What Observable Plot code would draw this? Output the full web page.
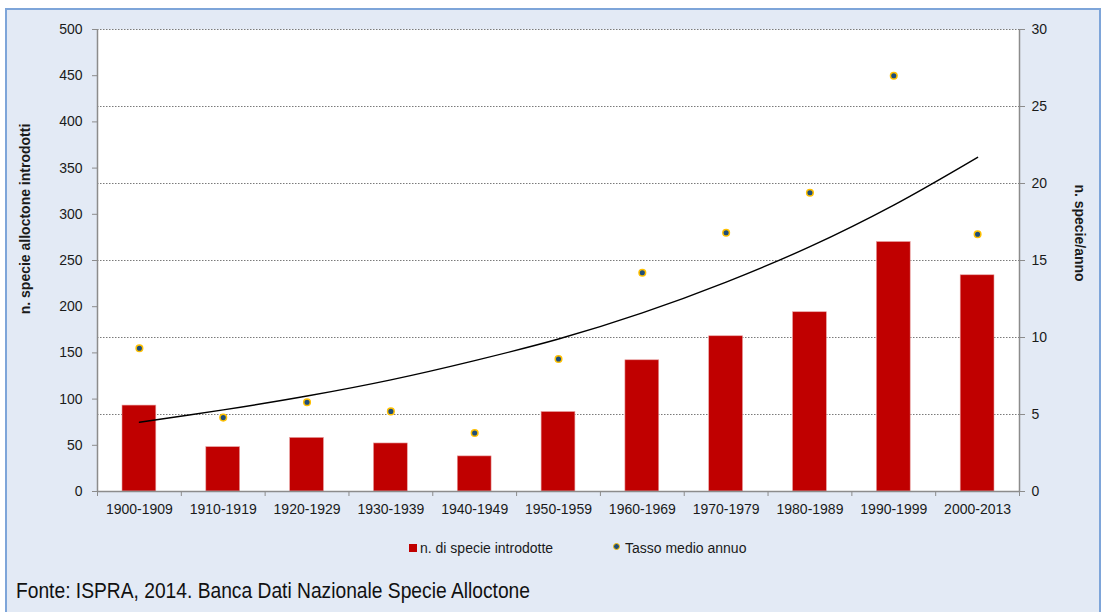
<!DOCTYPE html>
<html>
<head>
<meta charset="utf-8">
<script src="https://cdn.jsdelivr.net/npm/d3@7"></script>
<script src="https://cdn.jsdelivr.net/npm/@observablehq/plot@0.6"></script>
<style>
html,body{margin:0;padding:0;background:#ffffff;}
#wrap{position:relative;width:1104px;height:612px;overflow:hidden;font-family:"Liberation Sans",Arial,sans-serif;color:#1a1a1a;}
#panel{position:absolute;left:5px;top:8px;width:1092px;height:640px;background:#E3EAF5;border:2px solid #7EA5D9;}
#chart{position:absolute;left:0;top:0;}
.ytitle{position:absolute;font-weight:bold;font-size:14px;white-space:nowrap;line-height:14px;}
#legend{position:absolute;left:0;top:540px;font-size:14px;}
.lg{position:absolute;white-space:nowrap;line-height:16px;}
#caption{position:absolute;left:16px;top:580px;font-family:"Liberation Sans Narrow","Arial Narrow","Liberation Sans",Arial,sans-serif;font-size:22px;line-height:22px;white-space:nowrap;transform-origin:0 0;color:#111;}
</style>
</head>
<body>
<div id="wrap">
  <div id="panel"></div>
  <div id="chart"></div>
  <div class="ytitle" id="ltitle">n. specie alloctone introdotti</div>
  <div class="ytitle" id="rtitle">n. specie/anno</div>
  <div id="legend"></div>
  <div id="caption">Fonte: ISPRA, 2014. Banca Dati Nazionale Specie Alloctone</div>
</div>
<script>
// ---- data ----
const categories = ["1900-1909","1910-1919","1920-1929","1930-1939","1940-1949","1950-1959","1960-1969","1970-1979","1980-1989","1990-1999","2000-2013"];
const introduced = [93, 48, 58, 52, 38, 86, 142, 168, 194, 270, 234];
const annualRate = [9.3, 4.8, 5.8, 5.2, 3.8, 8.6, 14.2, 16.8, 19.4, 27.0, 16.7];
const trendRate = [4.5, 5.3, 6.2, 7.25, 8.5, 9.9, 11.6, 13.6, 15.9, 18.6, 21.7];
const leftTicks = [0, 50, 100, 150, 200, 250, 300, 350, 400, 450, 500];
const rightTicks = [0, 5, 10, 15, 20, 25, 30];
const seriesNames = ["n. di specie introdotte", "Tasso medio annuo"];

const leftMax = 500, rightMax = 30;
const toLeft = v => v * leftMax / rightMax;

const data = categories.map((c, i) => ({c, n: introduced[i], r: annualRate[i], t: trendRate[i]}));

const W = 1104, H = 520, mL = 97, mR = 85, mT = 29, mB = 29;
const step = (W - mL - mR) / categories.length;
const axisColor = "#8c8c8c";
const barColor = "#C00000";
const dotFill = "#1F4E79";
const dotStroke = "#FFC000";

const chart = Plot.plot({
  width: W, height: H,
  marginLeft: mL, marginRight: mR, marginTop: mT, marginBottom: mB,
  style: {background: "transparent", fontFamily: "Liberation Sans, Arial, sans-serif", fontSize: "14px", color: "#1a1a1a"},
  x: {domain: categories, padding: 0, round: false, axis: null},
  y: {domain: [0, leftMax], axis: null},
  marks: [
    Plot.frame({fill: "white", stroke: null}),
    Plot.gridY(rightTicks.slice(1).map(toLeft), {stroke: "#7a7a7a", strokeOpacity: 1, strokeWidth: 1, strokeDasharray: "1.5,1.5"}),
    Plot.barY(data, {x: "c", y: "n", fill: barColor, stroke: "#e8a0a0", strokeWidth: 0.6, insetLeft: 25, insetRight: 25}),
    Plot.line(data, {x: "c", y: d => toLeft(d.t), stroke: "black", strokeWidth: 1.4, curve: "catmull-rom"}),
    Plot.dot(data, {x: "c", y: d => toLeft(d.r), r: 3.3, fill: dotFill, stroke: dotStroke, strokeWidth: 1.5}),
    Plot.ruleY([0], {stroke: axisColor, strokeWidth: 1.5}),
    Plot.ruleX([categories[0]], {dx: -step / 2, y1: 0, y2: leftMax, stroke: axisColor, strokeWidth: 1.5}),
    Plot.ruleX([categories[categories.length - 1]], {dx: step / 2, y1: 0, y2: leftMax, stroke: axisColor, strokeWidth: 1.5}),
    Plot.ruleX(categories, {dx: -step / 2, y1: 0, y2: 0, insetBottom: -5, stroke: axisColor, strokeWidth: 1}),
    Plot.ruleX([categories[categories.length - 1]], {dx: step / 2, y1: 0, y2: 0, insetBottom: -5, stroke: axisColor, strokeWidth: 1}),
    Plot.axisX({tickSize: 0, tickPadding: 13, fontSize: 14, label: null, fill: "#1a1a1a"}),
    Plot.axisY(leftTicks, {anchor: "left", tickSize: 5, tickPadding: 10, fontSize: 14, label: null, stroke: axisColor, fill: "#1a1a1a"}),
    Plot.axisY(rightTicks.map(toLeft), {anchor: "right", tickSize: 5, tickPadding: 7, fontSize: 14, label: null, stroke: axisColor, fill: "#1a1a1a", tickFormat: d => Math.round(d * rightMax / leftMax)})
  ]
});
document.getElementById("chart").appendChild(chart);

// axis titles
const lt = document.getElementById("ltitle");
lt.style.left = "25px"; lt.style.top = "219px";
lt.style.transform = "translate(-50%,-50%) rotate(-90deg)";
const rt = document.getElementById("rtitle");
rt.style.left = "1080px"; rt.style.top = "233px";
rt.style.transform = "translate(-50%,-50%) rotate(90deg)";

// legend
const legend = document.getElementById("legend");
legend.innerHTML =
  `<div style="position:absolute;left:409px;top:4px;width:8px;height:8px;background:${barColor}"></div>` +
  `<div class="lg" style="left:420px;top:0px">${seriesNames[0]}</div>` +
  `<div style="position:absolute;left:613px;top:3px;width:5px;height:5px;border-radius:50%;background:${dotFill};border:1.5px solid ${dotStroke}"></div>` +
  `<div class="lg" style="left:625px;top:0px">${seriesNames[1]}</div>`;

// caption width fit
const cap = document.getElementById("caption");
const cw = cap.getBoundingClientRect().width;
if (cw > 0) cap.style.transform = `scaleX(${514 / cw})`;
</script>
</body>
</html>
